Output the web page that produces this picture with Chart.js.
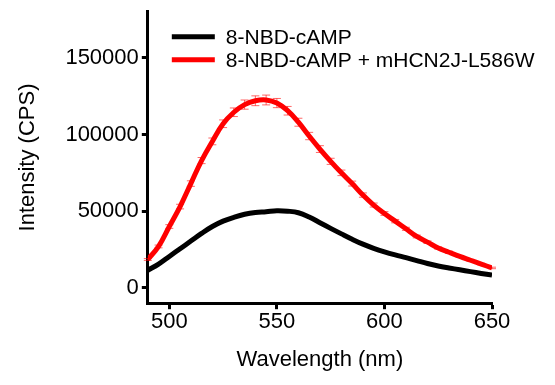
<!DOCTYPE html>
<html>
<head>
<meta charset="utf-8">
<script src="https://cdn.jsdelivr.net/npm/chart.js@4/dist/chart.umd.min.js"></script>
<style>
  html, body { margin: 0; padding: 0; background: #fff; }
  #wrap { width: 555px; height: 385px; }
</style>
</head>
<body>
<div id="wrap"><canvas id="spectrum"></canvas></div>
<script>
// emission spectra, every 5 nm
const wavelengths = [490, 495, 500, 505, 510, 515, 520, 525, 530, 535, 540, 545, 550, 555, 560, 565, 570,
  575, 580, 585, 590, 595, 600, 605, 610, 615, 620, 625, 630, 635, 640, 645, 650];
const nbdCamp = [11500, 15500, 20500, 25500, 30500, 35500, 40000, 43500, 46000, 48000, 49200, 49700, 50300,
  50000, 49000, 46200, 42500, 38800, 35200, 31700, 28500, 25800, 23500, 21500, 19700, 17800, 15900,
  14300, 13000, 11800, 10600, 9400, 8300];
const nbdCampHcn = [18500, 27000, 40000, 53000, 68000, 83000, 95500, 107000, 114500, 119500, 122000, 122500,
  120500, 115500, 108000, 99000, 90500, 82500, 75000, 68000, 60500, 54000, 48500, 43500, 38500, 33500,
  29800, 26000, 23200, 20500, 18000, 15500, 13000];
const nbdCampHcnErr = [600, 900, 1200, 1500, 1800, 2000, 2200, 2500, 2800, 3000, 3200, 3200, 3000, 2800,
  2600, 2400, 2200, 2000, 1800, 1600, 1400, 1300, 1200, 1100, 1000, 900, 800, 700, 700, 600, 600, 500, 500];
const seriesNames = ['8-NBD-cAMP', '8-NBD-cAMP + mHCN2J-L586W'];
const seriesColors = ['#000000', '#ff0000'];
const xTicks = [500, 550, 600, 650];
const yTicks = [0, 50000, 100000, 150000];

const font = { family: '"Liberation Sans", Arial, sans-serif', size: 22 };

const errorBars = {
  id: 'errorBars',
  afterDatasetsDraw(chart) {
    const ctx = chart.ctx;
    const xs = chart.scales.x, ys = chart.scales.y;
    ctx.save();
    ctx.strokeStyle = 'rgba(255,0,0,0.6)';
    ctx.lineWidth = 1;
    wavelengths.forEach((w, i) => {
      const x = xs.getPixelForValue(w);
      const top = ys.getPixelForValue(nbdCampHcn[i] + nbdCampHcnErr[i]);
      const bot = ys.getPixelForValue(nbdCampHcn[i] - nbdCampHcnErr[i]);
      ctx.beginPath();
      ctx.moveTo(x, top); ctx.lineTo(x, bot);
      ctx.moveTo(x - 4, top); ctx.lineTo(x + 4, top);
      ctx.moveTo(x - 4, bot); ctx.lineTo(x + 4, bot);
      ctx.stroke();
    });
    ctx.restore();
  }
};

// legend sits inside the plot, top left
const insideLegend = {
  id: 'insideLegend',
  afterDraw(chart) {
    const ctx = chart.ctx;
    const area = chart.chartArea;
    ctx.save();
    ctx.font = '21px "Liberation Sans", Arial, sans-serif';
    ctx.textBaseline = 'middle';
    ctx.fillStyle = '#000';
    seriesNames.forEach((name, i) => {
      const y = area.top + 25 + i * 23;
      ctx.strokeStyle = seriesColors[i];
      ctx.lineWidth = 5;
      ctx.beginPath();
      ctx.moveTo(area.left + 24, y);
      ctx.lineTo(area.left + 67, y);
      ctx.stroke();
      ctx.fillText(name, area.left + 78, y + 1);
    });
    ctx.restore();
  }
};

new Chart(document.getElementById('spectrum'), {
  type: 'line',
  data: {
    datasets: [
      {
        label: seriesNames[0],
        data: wavelengths.map((w, i) => ({ x: w, y: nbdCamp[i] })),
        borderColor: seriesColors[0],
        borderWidth: 5,
        pointRadius: 0,
        tension: 0.4
      },
      {
        label: seriesNames[1],
        data: wavelengths.map((w, i) => ({ x: w, y: nbdCampHcn[i] })),
        borderColor: seriesColors[1],
        borderWidth: 5,
        pointRadius: 0,
        tension: 0.4
      }
    ]
  },
  options: {
    responsive: true,
    maintainAspectRatio: false,
    animation: false,
    layout: { padding: { left: 15, right: 63, top: 6, bottom: 12 } },
    plugins: {
      tooltip: { enabled: false },
      legend: { display: false }
    },
    scales: {
      x: {
        type: 'linear',
        min: 490,
        max: 650,
        afterBuildTicks: axis => { axis.ticks = xTicks.map(v => ({ value: v })); },
        border: { display: true, color: '#000', width: 3 },
        grid: { drawOnChartArea: false, drawTicks: true, tickLength: 6, tickWidth: 3, tickColor: '#000' },
        ticks: { color: '#000', font, padding: 0, maxRotation: 0, callback: v => String(v) },
        title: { display: true, text: 'Wavelength (nm)', color: '#000', font, padding: { top: 11, bottom: 0 } }
      },
      y: {
        type: 'linear',
        min: -10000,
        max: 180000,
        afterBuildTicks: axis => { axis.ticks = yTicks.map(v => ({ value: v })); },
        border: { display: true, color: '#000', width: 3 },
        grid: { drawOnChartArea: false, drawTicks: true, tickLength: 6, tickWidth: 3, tickColor: '#000' },
        ticks: { color: '#000', font: { ...font, lineHeight: 0.8 }, padding: 3, callback: v => String(v) },
        title: { display: true, text: 'Intensity (CPS)', color: '#000', font, padding: { top: 0, bottom: 21 } }
      }
    }
  },
  plugins: [errorBars, insideLegend]
});
</script>
</body>
</html>
